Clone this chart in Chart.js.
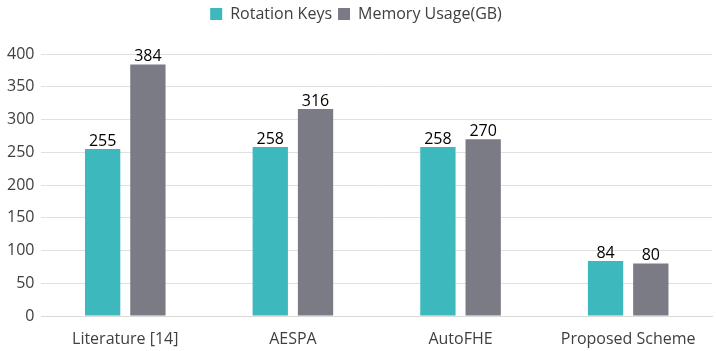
<!DOCTYPE html>
<html>
<head>
<meta charset="utf-8">
<script src="https://cdn.jsdelivr.net/npm/chart.js@4"></script>
<style>
  html, body { margin: 0; padding: 0; background: #fff; }
  #wrap { width: 716px; height: 351px; }
</style>
</head>
<body>
<div id="wrap"><canvas id="chart"></canvas></div>
<script>
// chart data
const categories = ['Literature [14]', 'AESPA', 'AutoFHE', 'Proposed Scheme'];
const rotationKeys = [255, 258, 258, 84];
const memoryUsage = [384, 316, 270, 80];

const FONT = '"Open Sans", "Noto Sans", sans-serif';

// draws the value above each bar
const valueLabels = {
    id: 'valueLabels',
    afterDatasetsDraw(chart) {
        const ctx = chart.ctx;
        ctx.save();
        ctx.font = '16px ' + FONT;
        ctx.fillStyle = '#000';
        ctx.textAlign = 'center';
        ctx.textBaseline = 'bottom';
        chart.data.datasets.forEach((ds, i) => {
            chart.getDatasetMeta(i).data.forEach((bar, j) => {
                ctx.fillText(ds.data[j], bar.x, bar.y);
            });
        });
        ctx.restore();
    }
};

// extra room under the legend
const legendGap = {
    id: 'legendGap',
    beforeInit(chart) {
        const fit = chart.legend.fit;
        chart.legend.fit = function () {
            fit.bind(chart.legend)();
            this.height += 22;
        };
    }
};

new Chart(document.getElementById('chart'), {
    type: 'bar',
    data: {
        labels: categories,
        datasets: [
            {
                label: 'Rotation Keys',
                data: rotationKeys,
                backgroundColor: '#3db8bd',
                categoryPercentage: 0.54,
                barPercentage: 0.78
            },
            {
                label: 'Memory Usage(GB)',
                data: memoryUsage,
                backgroundColor: '#7a7b84',
                categoryPercentage: 0.54,
                barPercentage: 0.78
            }
        ]
    },
    options: {
        responsive: true,
        maintainAspectRatio: false,
        animation: false,
        layout: { padding: { left: 0, right: 4, top: 0, bottom: 0 } },
        plugins: {
            legend: {
                position: 'top',
                labels: {
                    font: { family: FONT, size: 16 },
                    color: '#404040',
                    boxWidth: 12,
                    boxHeight: 12,
                    padding: 6
                }
            },
            tooltip: { enabled: false }
        },
        scales: {
            x: {
                grid: { display: false, drawTicks: false },
                border: { color: '#d9d9d9' },
                ticks: { font: { family: FONT, size: 16 }, color: '#404040', padding: 14 },
                afterFit(axis) { axis.height = 35; }
            },
            y: {
                min: 0,
                max: 400,
                ticks: { stepSize: 50, font: { family: FONT, size: 16 }, color: '#404040', padding: 7 },
                grid: { color: '#e0e0e0', drawTicks: false },
                border: { display: false }
            }
        }
    },
    plugins: [valueLabels, legendGap]
});
</script>
</body>
</html>
